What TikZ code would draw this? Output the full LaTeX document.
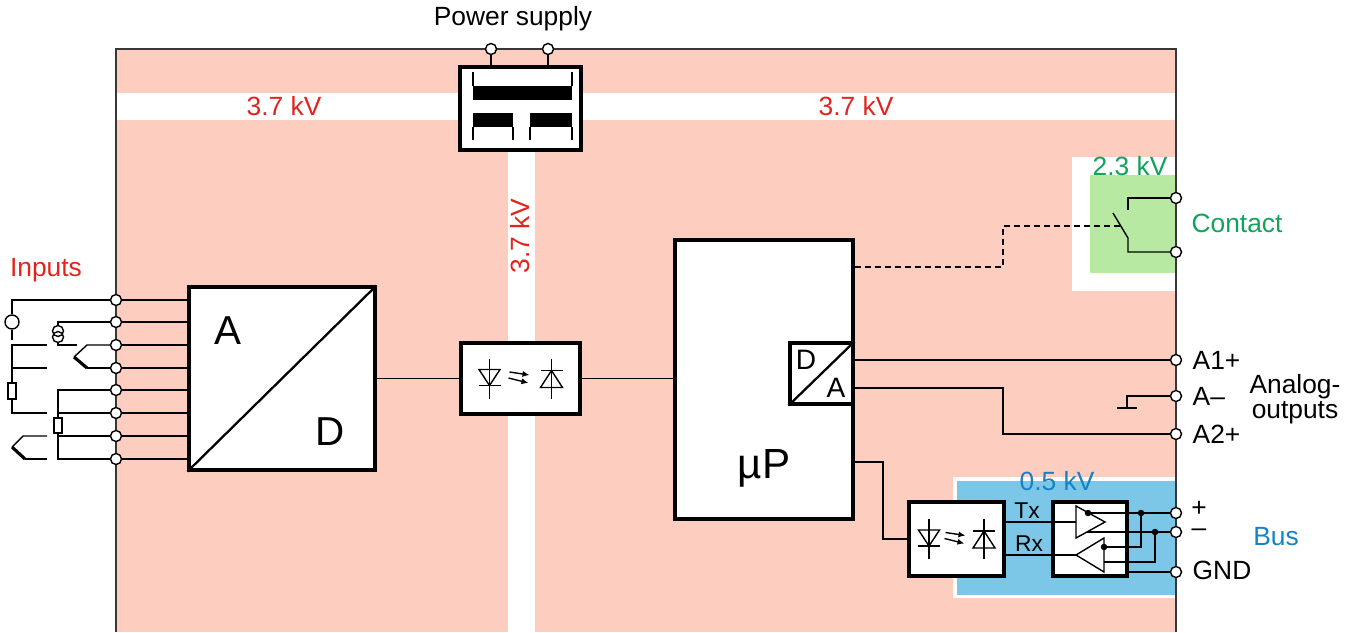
\documentclass[tikz,border=0pt]{standalone}
\usepackage{fontspec}
\setmainfont{Liberation Sans}
\usepackage{xcolor}
\usepackage{tikz}
\usetikzlibrary{arrows.meta}

\definecolor{zonepink}{RGB}{253,205,191}
\definecolor{zonegreen}{RGB}{184,233,163}
\definecolor{zoneblue}{RGB}{124,199,232}
\definecolor{kvred}{RGB}{226,35,30}
\definecolor{kvgreen}{RGB}{16,163,90}
\definecolor{kvblue}{RGB}{20,130,196}
\definecolor{framegray}{RGB}{55,55,55}

\tikzset{
  box/.style={draw, line width=1.8pt, fill=white, inner sep=0pt},
  term/.style={draw, circle, fill=white, line width=0.8pt, inner sep=0pt, minimum size=0.22cm},
  jdot/.style={circle, fill=black, inner sep=0pt, minimum size=0.13cm},
  lbl/.style={inner sep=0pt, font=\fontsize{15}{18}\selectfont},
  pics/optopair/.style={code={
    % emitting diode
    \draw (-#1,-20) -- (-#1,20);
    \draw (-#1-10.5,-9) -- (-#1+10.5,-9) -- (-#1,7) -- cycle;
    \draw (-#1-11,7) -- (-#1+11,7);
    % light
    \draw[-{Latex[length=4pt,width=3.5pt]}] (-11,-6.5) -- (9,-3.5);
    \draw[-{Latex[length=4pt,width=3.5pt]}] (-12,-0.5) -- (8,4.5);
    % receiving diode
    \draw (#1,-20) -- (#1,20);
    \draw (#1-11,-8) -- (#1+11,-8);
    \draw (#1,-8) -- (#1-11,9) -- (#1+11,9) -- cycle;
  }}
}

\begin{document}
\begin{tikzpicture}[x=0.02cm, y=-0.02cm, line width=0.8pt]
    \useasboundingbox (0,0) rectangle (1351,632);

    % isolation zones
    \fill[zonepink] (116,49) rectangle (1176,632);
    \fill[white] (116,93) rectangle (1176,120);
    \fill[white] (508,120) rectangle (535,632);
    \fill[white] (1072,157) rectangle (1176,291);
    \fill[zonegreen] (1090,175) rectangle (1176,273);
    \fill[white] (953,477) rectangle (1176,598);
    \fill[zoneblue] (957,481) rectangle (1176,595);
    \draw[framegray, line width=1pt] (116,632) -- (116,49) -- (1176,49) -- (1176,632);

    % blocks
    \node[box, minimum width=2.42cm, minimum height=1.66cm] (trafo) at (520.5,108.5) {};
    \node[box, minimum width=3.72cm, minimum height=3.66cm] (ad) at (282,378.5) {};
    \node[box, minimum width=2.38cm, minimum height=1.42cm] (opto1) at (520.5,378.5) {};
    \node[box, minimum width=3.56cm, minimum height=5.58cm] (up) at (764,379.5) {};
    \node[box, minimum width=1.26cm, minimum height=1.22cm] (da) at (821.5,373.5) {};
    \node[box, minimum width=1.9cm, minimum height=1.48cm] (opto2) at (956.5,539) {};
    \node[box, minimum width=1.48cm, minimum height=1.48cm] (trx) at (1090,539) {};

    % transformer
    \draw (473,72) -- (473,86) (572,72) -- (572,86);
    \fill (473,86) rectangle (572,100);
    \fill (473,113) rectangle (513,127);
    \fill (530,113) rectangle (572,127);
    \draw (473,127) -- (473,140) (513,127) -- (513,140)
          (530,127) -- (530,140) (572,127) -- (572,140);

    % converters
    \draw[line width=1.3pt] (ad.south west) -- (ad.north east);
    \node[font=\fontsize{23}{23}\selectfont] at (228,331) {A};
    \node[font=\fontsize{23}{23}\selectfont] at (330,432) {D};
    \draw[line width=1.3pt] (da.south west) -- (da.north east);
    \node[inner sep=0pt, font=\fontsize{16}{16}\selectfont] at (806,360) {D};
    \node[inner sep=0pt, font=\fontsize{16}{16}\selectfont] at (836,388) {A};
    \node[anchor=base, inner sep=0pt, font=\fontsize{24}{24}\selectfont] at (764,478) {µP};

    % optocouplers
    \pic at (opto1) {optopair=31};
    \pic at (opto2) {optopair=27.5};

    % transceiver
    \draw (1076,506) -- (1105,522) -- (1076,538) -- cycle;
    \draw (1076,555) -- (1104,538) -- (1104,572) -- cycle;
    \coordinate (drvin) at (1076,522);
    \coordinate (rcvout) at (1076,555);
    \coordinate (drvout) at (1088,513);
    \coordinate (drvinv) at (1087,532);
    \coordinate (rcvin) at (1104,547);
    \coordinate (rcvinv) at (1104,562);

    % terminals
    \node[term] (ps1) at (491,49) {};
    \node[term] (ps2) at (548,49) {};
    \foreach \i/\y in {1/300,2/322,3/345,4/368,5/390,6/413,7/436,8/459}
      \node[term] (in\i) at (116,\y) {};
    \node[term] (k1) at (1176,198) {};
    \node[term] (k2) at (1176,252) {};
    \node[term] (a1) at (1176,360) {};
    \node[term] (a0) at (1176,396) {};
    \node[term] (a2) at (1176,434) {};
    \node[term] (bplus) at (1176,513) {};
    \node[term] (bminus) at (1176,532) {};
    \node[term] (bgnd) at (1176,572) {};

    % connections
    \draw (ps1) -- (ps1 |- trafo.north);
    \draw (ps2) -- (ps2 |- trafo.north);
    \foreach \i in {1,...,8}
      \draw (in\i) -- (in\i -| ad.west);
    \draw (ad.east) -- (opto1.west);
    \draw (opto1.east) -- (up.west |- opto1.east);
    \draw[dashed, dash pattern=on 3.4pt off 2.3pt] (up.east |- 0,267) -- (1003,267) |- (1120,226);
    \draw (k1) -| (1128,210);
    \draw (k2) -| (1128,238) -- (1113,213);
    \draw (da.east |- a1) -- (a1);
    \draw (da.east |- 0,388) -- (1003,388) |- (a2);
    \draw (a0) -| (1127,408);
    \draw (1117,408) -- (1137,408);
    \draw (up.east |- 0,462) -- (883,462) |- (opto2.west);
    \draw (opto2.east |- drvin) -- (drvin);
    \draw (rcvout) -- (rcvout -| opto2.east);
    \draw (drvout) -- (bplus);
    \draw (drvinv) -- (bminus);
    \draw (rcvin) -| (1141,513);
    \draw (rcvinv) -| (1155,532);
    \draw (trx.east |- bgnd) -- (bgnd);
    \node[jdot] at (drvout) {};
    \node[jdot] at (rcvin) {};
    \node[jdot] at (1141,513) {};
    \node[jdot] at (1155,532) {};

    % sensors at the inputs
    \node[draw, circle, inner sep=0pt, minimum size=0.28cm] (usrc) at (12,322) {};
    \draw (usrc.north) |- (in1);
    \draw (usrc.south) -- (12,340);
    \draw (58,331) circle (5.5) (58,337) circle (5.5);
    \draw (58,325.5) |- (in2);
    \draw (58,342.5) |- (77,345);
    \draw (in3) -- (87,345) -- (74,357);
    \draw[line width=1.8pt] (74,357) -- (87,368);
    \draw (87,368) -- (in4);
    \draw (47,345) -| (12,413) -- (47,413);
    \draw (12,368) -- (47,368);
    \node[draw, fill=white, inner sep=0pt, minimum width=0.16cm, minimum height=0.32cm] at (12,391) {};
    \draw (in5) -| (58,459) -- (in8);
    \draw (58,413) -- (in6);
    \draw (58,436) -- (in7);
    \node[draw, fill=white, inner sep=0pt, minimum width=0.16cm, minimum height=0.3cm] at (58,425.5) {};
    \draw (47,436) -- (23,436) -- (12,447);
    \draw[line width=1.8pt] (12,447) -- (25,459);
    \draw (25,459) -- (47,459);

    % labels
    \node[lbl, anchor=base] at (513,26) {Power supply};
    \node[lbl, kvred, anchor=base] at (284,115) {3.7 kV};
    \node[lbl, kvred, anchor=base] at (856,115) {3.7 kV};
    \node[lbl, kvred, rotate=90] at (520.5,236) {3.7 kV};
    \node[lbl, kvred, anchor=base] at (46,276) {Inputs};
    \node[lbl, kvgreen] at (1130,166) {2.3 kV};
    \node[lbl, kvgreen] at (1237,223) {Contact};
    \node[lbl, anchor=west] at (1192,360) {A1+};
    \node[lbl, anchor=west] at (1192,396) {A–};
    \node[lbl, anchor=west] at (1192,434) {A2+};
    \node[lbl, anchor=base] at (1295,393) {Analog-};
    \node[lbl, anchor=base] at (1295,418) {outputs};
    \node[lbl, kvblue] at (1057,481) {0.5 kV};
    \node[inner sep=0pt, font=\fontsize{13}{13}\selectfont] at (1027,511) {Tx};
    \node[inner sep=0pt, font=\fontsize{13}{13}\selectfont] at (1029,544) {Rx};
    \node[lbl] at (1199,509) {+};
    \node[lbl] at (1199,533) {–};
    \node[lbl, anchor=west] at (1192,570) {GND};
    \node[lbl, kvblue] at (1276,537) {Bus};

\end{tikzpicture}
\end{document}
